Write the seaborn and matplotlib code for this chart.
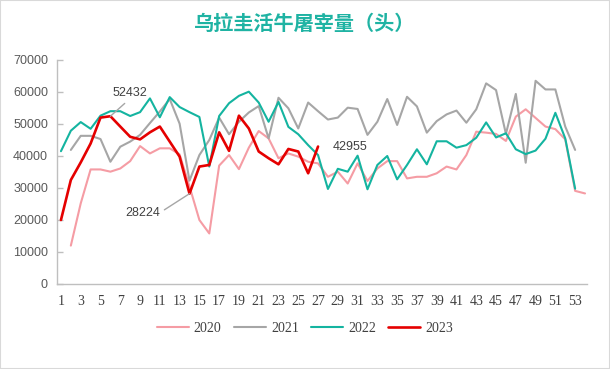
import pandas as pd
import seaborn as sns
import matplotlib.pyplot as plt
from matplotlib.patches import Rectangle

# weekly slaughter (head)
weeks_2020 = list(range(2, 55))
vals_2020 = [12000, 25200, 35800, 35800, 35100, 36100, 38400, 43100, 40800, 42400,
             42400, 40500, 30500, 20000, 15800, 37000, 40300, 35900, 42600, 47800,
             45500, 39300, 40800, 39800, 38200, 37700, 33500, 35100, 31400, 37700,
             32200, 36100, 38400, 38400, 33000, 33500, 33500, 34600, 36700, 35800,
             40300, 47600, 47300, 46900, 44700, 52300, 54600, 51900, 49200, 48400,
             45200, 29100, 28300]

weeks_2021 = list(range(2, 54))
vals_2021 = [41900, 46300, 46300, 45300, 38200, 42900, 44500, 46600, 50300, 53900,
             57800, 50100, 32300, 40300, 45000, 52000, 46800, 50700, 53600, 55600,
             45500, 58200, 54900, 48600, 56700, 54000, 51400, 52000, 55100, 54700,
             46600, 50700, 57800, 49700, 58500, 55500, 47300, 50900, 53000, 54200,
             50400, 54600, 62700, 60600, 46900, 59400, 37900, 63500, 60800, 60800,
             49200, 41900]

weeks_2022 = list(range(1, 54))
vals_2022 = [41500, 47900, 50600, 48500, 52600, 54000, 54000, 52500, 53700, 58000,
             52100, 58400, 55300, 53700, 52200, 36700, 52500, 56500, 58800, 60100,
             56700, 50700, 56900, 49100, 46800, 43400, 40300, 29700, 36000, 35100,
             40100, 29600, 37200, 40000, 32700, 37200, 42100, 37400, 44600, 44600,
             42600, 43400, 45700, 50500, 45800, 47100, 42100, 40600, 41700, 45400,
             53500, 45500, 29800]

weeks_2023 = list(range(1, 28))
vals_2023 = [20000, 32500, 38000, 43900, 52000, 52432, 49200, 46000, 45200, 47400,
             49200, 44500, 39800, 28224, 36700, 37200, 47400, 41600, 52600, 48600,
             41400, 39300, 37400, 42200, 41400, 34600, 42955]

years = ['2020', '2021', '2022', '2023']
colors = ['#f59ca4', '#a6a6a6', '#14b4a0', '#e50000']

frames = []
for yr, w, v in zip(years, [weeks_2020, weeks_2021, weeks_2022, weeks_2023],
                    [vals_2020, vals_2021, vals_2022, vals_2023]):
    frames.append(pd.DataFrame({'week': w, 'value': v, 'year': yr}))
df = pd.concat(frames, ignore_index=True)

sns.set_style('white')
plt.rcParams['font.family'] = ['Liberation Sans', 'DejaVu Sans']

fig = plt.figure(figsize=(6.1, 3.69), dpi=100)
ax = fig.add_axes([57 / 610, 1 - 284 / 369, 530 / 610, 224 / 369])

sns.lineplot(data=df, x='week', y='value', hue='year', hue_order=years,
             palette=colors, linewidth=1.5, errorbar=None, legend=False, ax=ax)
lines = ax.get_lines()
lines[3].set_linewidth(1.9)

ax.set_xlim(0.6, 54.2)
ax.set_ylim(0, 70000)
ax.set_xticks(range(1, 54, 2))
ax.set_yticks(range(0, 70001, 10000))
ax.set_xlabel('')
ax.set_ylabel('')
for lab in ax.get_xticklabels():
    lab.set_fontfamily('Liberation Serif')
ax.tick_params(axis='x', length=0, pad=8, labelsize=10, labelcolor='#404040')
ax.tick_params(axis='y', direction='in', length=4, width=1, color='#bfbfbf',
               pad=6.5, labelsize=9, labelcolor='#595959', left=True)
sns.despine(ax=ax)
for side in ['left', 'bottom']:
    ax.spines[side].set_color('#bfbfbf')
    ax.spines[side].set_linewidth(1)

# data labels with leader lines
lead = dict(arrowstyle='-', color='#a6a6a6', lw=1, shrinkA=1, shrinkB=0)
ax.annotate('52432', xy=(6, 52432), xytext=(19, 23), textcoords='offset pixels',
            ha='center', va='center', fontsize=9, color='#404040',
            arrowprops=dict(lead, relpos=(0.5, 0)))
ax.annotate('28224', xy=(14, 28224), xytext=(-47, -19), textcoords='offset pixels',
            ha='center', va='center', fontsize=9, color='#404040',
            arrowprops=dict(lead, relpos=(1, 0.5)))
ax.annotate('42955', xy=(27, 42955), xytext=(15, 0), textcoords='offset pixels',
            ha='left', va='center', fontsize=9, color='#404040')

fig.text(0.5, 1 - 23 / 369, '乌拉圭活牛屠宰量（头）', ha='center', va='center',
         fontsize=14.5, fontweight='bold', color='#1fb3a3',
         family=['Noto Sans CJK SC', 'DejaVu Sans'])

fig.legend(lines, years, loc='center', bbox_to_anchor=(305 / 610, 1 - 328 / 369),
           ncol=4, frameon=False, handlelength=2.3, handletextpad=0.35,
           columnspacing=0.9, prop={'family': 'Liberation Serif', 'size': 10},
           labelcolor='#404040')

fig.patches.append(Rectangle((0, 0), 1, 1, transform=fig.transFigure,
                             fill=False, edgecolor='#d9d9d9', linewidth=1.5))

fig.savefig('out.png', dpi=100)
